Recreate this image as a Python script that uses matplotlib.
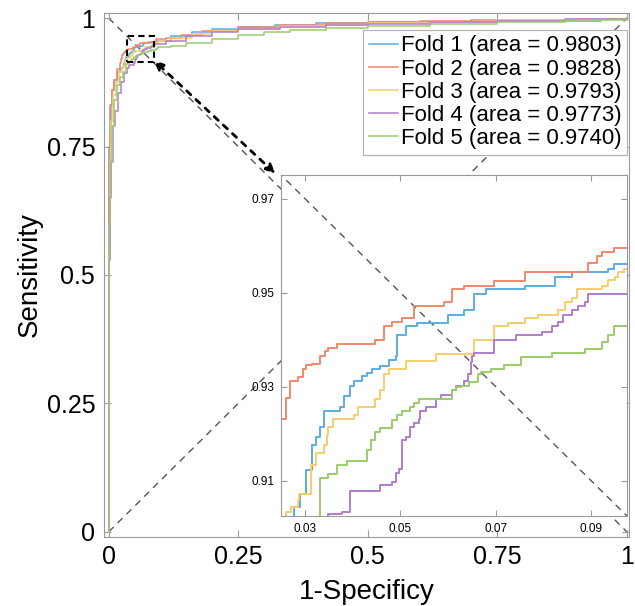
import matplotlib
matplotlib.use('Agg')
from matplotlib import pyplot as plt
from matplotlib.patches import Rectangle

plt.rcParams['font.family'] = ['Liberation Sans', 'DejaVu Sans']

# ROC points per fold (fpr where the step happens, tpr after the step)
fold1_fpr = [0, 0, 0.001, 0.002, 0.006, 0.010, 0.016, 0.022, 0.0277, 0.0290, 0.0303, 0.0314,
             0.0323, 0.0332, 0.0340, 0.0374, 0.0383, 0.0395, 0.0403, 0.0419, 0.0430, 0.0440,
             0.0458, 0.0476, 0.0490, 0.0493, 0.0511, 0.0535, 0.0599, 0.0634, 0.0654, 0.0680,
             0.0761, 0.0824, 0.0859, 0.0936, 0.0947, 0.12, 0.16, 0.20, 0.25, 0.32, 0.40,
             0.50, 0.60, 0.75, 0.91, 0.95, 1.0]
fold1_tpr = [0, 0.60, 0.75, 0.83, 0.86, 0.88, 0.895, 0.902, 0.9044, 0.9072, 0.9123, 0.9177,
             0.9194, 0.9214, 0.9249, 0.9257, 0.9281, 0.9302, 0.9311, 0.9323, 0.9329, 0.9337,
             0.9344, 0.9356, 0.9365, 0.9410, 0.9428, 0.9435, 0.9453, 0.9463, 0.9498, 0.9507,
             0.9515, 0.9533, 0.9543, 0.9550, 0.9560, 0.965, 0.972, 0.978, 0.983, 0.987, 0.990,
             0.992, 0.993, 0.994, 0.994, 0.998, 1.0]

fold2_fpr = [0, 0, 0.001, 0.002, 0.004, 0.007, 0.011, 0.016, 0.021, 0.0235, 0.0251, 0.0260,
             0.0268, 0.0286, 0.0296, 0.0303, 0.0314, 0.0332, 0.0342, 0.0349, 0.0367, 0.0448,
             0.0465, 0.0483, 0.0504, 0.0528, 0.0591, 0.0609, 0.0634, 0.0697, 0.0761, 0.0894,
             0.0912, 0.0922, 0.0947, 0.11, 0.14, 0.18, 0.25, 0.33, 0.42, 0.50, 0.60, 0.70,
             0.80, 0.90, 0.97, 1.0]
fold2_tpr = [0, 0.64, 0.72, 0.78, 0.83, 0.86, 0.88, 0.90, 0.912, 0.9212, 0.9231, 0.9275,
             0.9311, 0.9321, 0.9337, 0.9346, 0.9349, 0.9365, 0.9376, 0.9383, 0.9391, 0.9400,
             0.9428, 0.9437, 0.9445, 0.9472, 0.9480, 0.9507, 0.9515, 0.9524, 0.9543, 0.9563,
             0.9578, 0.9586, 0.9595, 0.962, 0.968, 0.975, 0.983, 0.987, 0.990, 0.993, 0.995,
             0.996, 0.997, 0.998, 0.999, 1.0]

fold3_fpr = [0, 0, 0.002, 0.005, 0.009, 0.014, 0.020, 0.0260, 0.0261, 0.0270, 0.0286, 0.0288,
             0.0313, 0.0324, 0.0340, 0.0346, 0.0349, 0.0358, 0.0402, 0.0412, 0.0448, 0.0458,
             0.0465, 0.0476, 0.0511, 0.0574, 0.0654, 0.0697, 0.0725, 0.0761, 0.0789, 0.0831,
             0.0845, 0.0859, 0.0870, 0.0922, 0.0936, 0.0950, 0.0957, 0.0968, 0.12, 0.16, 0.20,
             0.25, 0.33, 0.42, 0.50, 0.62, 0.75, 0.88, 1.0]
fold3_tpr = [0, 0.55, 0.72, 0.80, 0.85, 0.875, 0.895, 0.9029, 0.9034, 0.9044, 0.9058, 0.9072,
             0.9133, 0.9159, 0.9177, 0.9198, 0.9214, 0.9231, 0.9240, 0.9257, 0.9274, 0.9293,
             0.9327, 0.9337, 0.9355, 0.9369, 0.9400, 0.9428, 0.9435, 0.9445, 0.9452, 0.9463,
             0.9480, 0.9489, 0.9507, 0.9515, 0.9526, 0.9533, 0.9543, 0.9550, 0.962, 0.969, 0.974,
             0.979, 0.984, 0.987, 0.990, 0.993, 0.996, 0.998, 1.0]

fold4_fpr = [0, 0, 0.002, 0.004, 0.008, 0.012, 0.018, 0.024, 0.030, 0.0349, 0.0377, 0.0395,
             0.0458, 0.0483, 0.0490, 0.0497, 0.0504, 0.0511, 0.0521, 0.0528, 0.0539, 0.0542,
             0.0553, 0.0574, 0.0585, 0.0609, 0.0616, 0.0634, 0.0641, 0.0648, 0.0651, 0.0655,
             0.0697, 0.0743, 0.0796, 0.0817, 0.0831, 0.0841, 0.0859, 0.0873, 0.0887, 0.0894,
             0.11, 0.15, 0.20, 0.25, 0.33, 0.42, 0.50, 0.62, 0.75, 0.88, 1.0]
fold4_tpr = [0, 0.53, 0.65, 0.72, 0.79, 0.82, 0.855, 0.875, 0.893, 0.9029, 0.9034, 0.9079,
             0.9091, 0.9097, 0.9117, 0.9124, 0.9187, 0.9194, 0.9214, 0.9222, 0.9231, 0.9249,
             0.9257, 0.9274, 0.9283, 0.9292, 0.9302, 0.9313, 0.9327, 0.9353, 0.9365, 0.9372,
             0.9400, 0.9410, 0.9417, 0.9428, 0.9437, 0.9452, 0.9463, 0.9472, 0.9480, 0.9498,
             0.955, 0.965, 0.972, 0.978, 0.983, 0.986, 0.988, 0.992, 0.995, 0.998, 1.0]

fold5_fpr = [0, 0, 0.001, 0.003, 0.006, 0.010, 0.016, 0.022, 0.028, 0.0332, 0.0349, 0.0368,
             0.0388, 0.0430, 0.0438, 0.0448, 0.0458, 0.0483, 0.0493, 0.0504, 0.0521, 0.0528,
             0.0539, 0.0609, 0.0616, 0.0627, 0.0644, 0.0662, 0.0669, 0.0690, 0.0718, 0.0753,
             0.0817, 0.0887, 0.0922, 0.0936, 0.0947, 0.12, 0.15, 0.20, 0.25, 0.30, 0.35,
             0.42, 0.50, 0.62, 0.75, 0.88, 1.0]
fold5_tpr = [0, 0.43, 0.60, 0.72, 0.79, 0.84, 0.87, 0.885, 0.895, 0.9105, 0.9114, 0.9133,
             0.9142, 0.9166, 0.9187, 0.9203, 0.9212, 0.9229, 0.9240, 0.9249, 0.9257, 0.9265,
             0.9274, 0.9292, 0.9299, 0.9302, 0.9309, 0.9327, 0.9331, 0.9337, 0.9346, 0.9363,
             0.9372, 0.9381, 0.9396, 0.9410, 0.9428, 0.946, 0.952, 0.960, 0.967, 0.972, 0.977,
             0.981, 0.985, 0.989, 0.993, 0.996, 1.0]

fold_fprs = [fold1_fpr, fold2_fpr, fold3_fpr, fold4_fpr, fold5_fpr]
fold_tprs = [fold1_tpr, fold2_tpr, fold3_tpr, fold4_tpr, fold5_tpr]
fold_areas = ['0.9803', '0.9828', '0.9793', '0.9773', '0.9740']
fold_colors = ['#5aaee0', '#f0886a', '#f7cd6c', '#b27ccb', '#9ccb6c']

main_ticks = [0, 0.25, 0.5, 0.75, 1]
main_ticklabels = ['0', '0.25', '0.5', '0.75', '1']
inset_xticks = [0.03, 0.05, 0.07, 0.09]
inset_yticks = [0.91, 0.93, 0.95, 0.97]

spine_gray = '#9a9a9a'

fig = plt.figure(figsize=(6.35, 6.06), dpi=100)
ax = fig.add_axes([0.163, 0.1139, 0.8283, 0.8647])

# chance line and sens = spec line
ax.plot([0, 1], [0, 1], color='#555555', lw=1, dashes=(5, 4), zorder=1)
ax.plot([0, 1], [1, 0], color='#555555', lw=1, dashes=(5, 4), zorder=1)

for i in range(5):
    ax.plot(fold_fprs[i], fold_tprs[i], drawstyle='steps-post', color=fold_colors[i], lw=1.1,
            label='Fold %d (area = %s)' % (i + 1, fold_areas[i]), zorder=2)

ax.set_xlim(-0.01, 1.005)
ax.set_ylim(-0.01, 1.01)
ax.set_xticks(main_ticks)
ax.set_xticklabels(main_ticklabels)
ax.set_yticks(main_ticks)
ax.set_yticklabels(main_ticklabels)
ax.tick_params(direction='in', length=5, width=0.8, color=spine_gray, labelsize=18,
               top=True, right=True, pad=6)
for s in ax.spines.values():
    s.set_color(spine_gray)
    s.set_linewidth(0.8)
ax.set_xlabel('1-Specificy', fontsize=20, labelpad=7)
ax.set_ylabel('Sensitivity', fontsize=20, labelpad=3)

# zoom box and double arrow
ax.add_patch(Rectangle((0.035, 0.914), 0.052, 0.052, fill=False, ec='black', lw=1.5,
                       ls=(0, (3, 2)), zorder=4))
ax.annotate('', xy=(0.087, 0.918), xytext=(0.322, 0.697),
            arrowprops=dict(arrowstyle='<|-|>,head_length=0.55,head_width=0.25',
                            color='black', lw=2, ls=(0, (2, 2.5)), shrinkA=0, shrinkB=0),
            zorder=4)

leg = ax.legend(loc='upper right', bbox_to_anchor=(0.996, 0.968), fontsize=16,
                frameon=True, fancybox=False, edgecolor='#b0b0b0', framealpha=1,
                borderaxespad=0, handlelength=1.3, handletextpad=0.15, borderpad=0.25,
                labelspacing=0.1)
leg.get_frame().set_linewidth(0.8)

# inset
axin = fig.add_axes([0.4425, 0.1485, 0.5449, 0.5627])
axin.plot([0, 1], [1, 0], color='#555555', lw=1, dashes=(5, 4), zorder=1)
for i in range(5):
    axin.plot(fold_fprs[i], fold_tprs[i], drawstyle='steps-post', color=fold_colors[i], lw=1.4,
              zorder=2)
axin.set_xlim(0.025, 0.0975)
axin.set_ylim(0.9025, 0.975)
axin.set_xticks(inset_xticks)
axin.set_xticklabels(['0.03', '0.05', '0.07', '0.09'])
axin.set_yticks(inset_yticks)
axin.set_yticklabels(['0.91', '0.93', '0.95', '0.97'])
axin.tick_params(direction='in', length=4, width=0.8, color=spine_gray, labelsize=8.5,
                 top=True, right=True, pad=5)
for s in axin.spines.values():
    s.set_color(spine_gray)
    s.set_linewidth(0.8)

plt.savefig('out.png', dpi=100)
